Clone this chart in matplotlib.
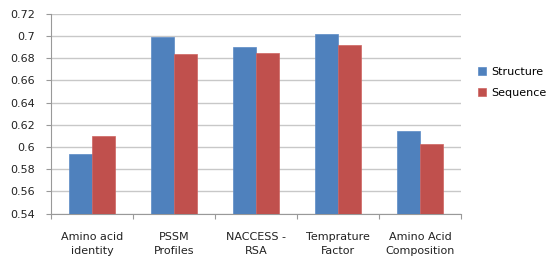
import matplotlib
matplotlib.use("Agg")
import matplotlib.pyplot as plt
import numpy as np

categories = ["Amino acid\nidentity", "PSSM\nProfiles", "NACCESS -\nRSA", "Temprature\nFactor", "Amino Acid\nComposition"]
structure = [0.594, 0.699, 0.690, 0.702, 0.614]
sequence = [0.610, 0.684, 0.685, 0.692, 0.603]
yticks = [0.54, 0.56, 0.58, 0.6, 0.62, 0.64, 0.66, 0.68, 0.7, 0.72]
ytick_labels = ["0.54", "0.56", "0.58", "0.6", "0.62", "0.64", "0.66", "0.68", "0.7", "0.72"]

plt.rcParams['font.family'] = ['DejaVu Sans']
fig = plt.figure(figsize=(5.57, 2.68), dpi=100)
ax = fig.add_axes([51/557, 1 - 213.5/268, (461-51)/557, (213.5-14)/268])

x = np.arange(len(categories))
w = 0.285
blue = "#4F81BD"
red = "#C0504D"
ax.bar(x - w/2, structure, w, color=blue, edgecolor="#5B8AC6", linewidth=0.5, label="Structure", zorder=3)
ax.bar(x + w/2, sequence, w, color=red, edgecolor="#CE6461", linewidth=0.5, label="Sequence", zorder=3)

ax.set_xlim(-0.5, len(categories) - 0.5)
ax.set_ylim(0.54, 0.72)
ax.set_yticks(yticks)
ax.set_yticklabels(ytick_labels, fontsize=8, color="#222222")
ax.yaxis.grid(True, color="#C8C8C8", linewidth=1.0, zorder=0)
ax.set_axisbelow(True)

ax.set_xticks(x)
ax.set_xticklabels(categories, fontsize=8, color="#222222", linespacing=1.5)
ax.tick_params(axis='x', length=0, pad=13)
ax.set_xticks(np.arange(len(categories) + 1) - 0.5, minor=True)
ax.tick_params(axis='x', which='minor', length=3.5, color="#999999", width=0.8)
ax.tick_params(axis='y', length=3.5, color="#999999", width=0.8, pad=8)

for s in ["top", "right"]:
    ax.spines[s].set_visible(False)
ax.spines["left"].set_color("#999999")
ax.spines["bottom"].set_color("#999999")
ax.spines["left"].set_linewidth(0.8)
ax.spines["bottom"].set_linewidth(0.8)

leg = fig.legend(loc="upper left", bbox_to_anchor=(468/557, 1 - 57/268), frameon=False,
                 fontsize=8, handlelength=0.7, handleheight=0.7, handletextpad=0.5,
                 labelspacing=1.0)

fig.savefig("out.png", dpi=100)
